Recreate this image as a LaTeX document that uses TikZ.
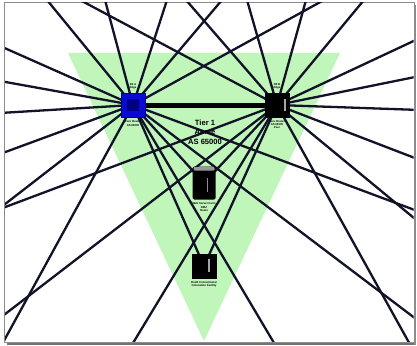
\documentclass[tikz,border=0pt]{standalone}
\usepackage{fontspec}
\setmainfont{Liberation Sans}
\usetikzlibrary{calc}
\definecolor{linkc}{RGB}{18,18,40}
\definecolor{zone}{RGB}{192,246,186}
\definecolor{bluenode}{RGB}{10,10,210}
\definecolor{bluein}{RGB}{0,0,130}
\begin{document}
\begin{tikzpicture}[x=1pt,y=-1pt,
  link/.style={draw=linkc, line width=2.3pt},
  trunk/.style={draw=black, line width=5pt},
  sqnode/.style={minimum size=24pt, inner sep=0pt, draw=black, line width=0.6pt},
  tinylab/.style={font=\fontsize{2.8}{3.2}\selectfont\bfseries, align=center, inner sep=0pt, text=black},
  tierlab/.style={font=\fontsize{7.6}{9.6}\selectfont\bfseries, align=center, inner sep=0pt}]
\useasboundingbox (0,0) rectangle (417,345);
\fill[white] (0,0) rectangle (417,345);
% frame with shadow
\fill[black!55] (7,342) rectangle (416,345);
\fill[black!45] (414,5) rectangle (416,345);
\draw[black!45, line width=0.8pt] (4.5,2.5) rectangle (414,342);
% green zone
\fill[zone] (68,53) -- (340,53) -- (204,341) -- cycle;
% coordinates
\coordinate (B) at (133,105);
\coordinate (K) at (277,105);
\coordinate (M) at (204,183);
\coordinate (L) at (204,266);
\foreach \n/\x/\y in {bt1/47/0, bt2/105/0, bt3/167/0, bt4/222/0, bt5/324/0,
  bl1/0/46, bl2/0/81, bl3/0/113, bl4/0/154, bl5/0/208, bl6/0/348,
  bb1/277/348, br1/420/212, br2/420/322,
  kt1/80/0, kt2/186/0, kt3/247/0, kt4/306/0, kt5/364/0,
  kr1/420/38, kr2/420/76, kr3/420/110, kr4/420/160, kr5/420/223,
  kb1/412/348, kb2/130/348, kl1/0/209, kl2/0/318}
  {\coordinate (\n) at (\x,\y);}
\begin{scope}
\clip (5,3) rectangle (413.5,341.5);
\foreach \e in {bt1,bt2,bt3,bt4,bt5,bl1,bl2,bl3,bl4,bl5,bl6,bb1,br1,br2,M,L}
  {\draw[link] (B) -- (\e);}
\foreach \e in {kt1,kt2,kt3,kt4,kt5,kr1,kr2,kr3,kr4,kr5,kb1,kb2,kl1,kl2,M,L}
  {\draw[link] (K) -- (\e);}
\end{scope}
\draw[trunk] (B) -- (K);
% nodes
\node[sqnode, fill=bluenode, draw=bluein] (nb) at (B) {};
\fill[bluein] ($(B)+(-6,-6)$) rectangle ($(B)+(6,6)$);
\node[sqnode, fill=black] (nk) at (K) {};
\fill[black!35] (283.5,99) rectangle (285.5,111);
\node[minimum width=23pt, minimum height=33pt, inner sep=0pt, fill=black, rounded corners=1.5pt] (nm) at (M) {};
\fill[black!40, rounded corners=1pt] (193.5,167) rectangle (214.5,170.5);
\fill[black!45] (207,178) rectangle (208.2,192);
\node[sqnode, fill=black] (nl) at (L) {};
\fill[black!35] (208,259) rectangle (210,272);
% labels
\node[tinylab] (lb1) at (133,86) {R1 A\\Edge};
\node[tinylab] (lb2) at (133,123.5) {Core Router\\AS 65000};
\node[tinylab] (lk1) at (277,86) {R2 B\\Edge};
\node[tinylab] (lk2) at (277,124.5) {Core Router\\AS 65000\\Peer};
\node[tinylab] (lm) at (204,207) {Web Server Farm\\DMZ\\Hosts};
\node[tinylab] (ll) at (204,284.5) {Redd Conventional\\Colocation Facility};
\node[tierlab] (tier) at (205,132) {Tier 1\\Acme\\AS 65000};
\end{tikzpicture}
\end{document}
